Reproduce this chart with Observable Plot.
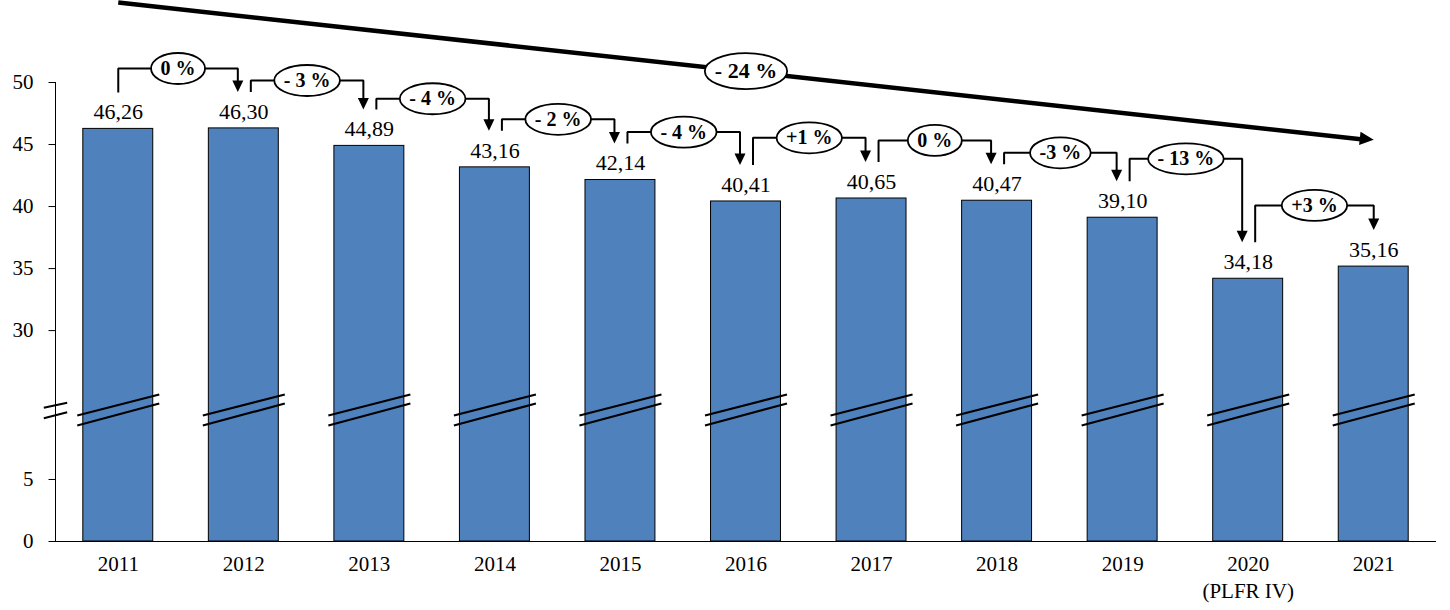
<!DOCTYPE html>
<html>
<head>
<meta charset="utf-8">
<script src="https://cdn.jsdelivr.net/npm/d3@7"></script>
<script src="https://cdn.jsdelivr.net/npm/@observablehq/plot@0.6"></script>
<style>
  html, body { margin: 0; padding: 0; background: #ffffff; }
  #chart { width: 1450px; height: 610px; }
</style>
</head>
<body>
<div id="chart"></div>
<script>
// ---------- data ----------
const years = [2011, 2012, 2013, 2014, 2015, 2016, 2017, 2018, 2019, 2020, 2021];
const values = [46.26, 46.30, 44.89, 43.16, 42.14, 40.41, 40.65, 40.47, 39.10, 34.18, 35.16];
const yearLabels = ["2011", "2012", "2013", "2014", "2015", "2016", "2017", "2018", "2019", "2020\n(PLFR IV)", "2021"];
const changeLabels = ["0 %", "- 3 %", "- 4 %", "- 2 %", "- 4 %", "+1 %", "0 %", "-3 %", "- 13 %", "+3 %"];
const changeLevels = [51.13, 50.16, 48.69, 47.03, 46.0, 45.54, 45.33, 44.33, 43.85, 40.09];
const totalLabel = "- 24 %";
const totalLevels = [56.45, 45.38];
const yTicks = [0, 5, 30, 35, 40, 45, 50];

// ---------- layout ----------
const W = 1450, H = 610;
const ML = 55, MR = 14, MT = 82, MB = 69;
const XDOM = [2010.5, 2021.5];
const YDOM = [0, 37];
const PXX = (W - ML - MR) / (XDOM[1] - XDOM[0]);
const PXY = (H - MT - MB) / (YDOM[1] - YDOM[0]);
const CUT = 13;          // units removed by the axis break
const f = v => (v >= 20 ? v - CUT : v);
const BREAK_Y = 10.6;    // break position (scaled units)
const GAP = 36.5 / PXY;  // arrow ends above the bars
const FONT = "Liberation Serif";
const BLUE = "#4F81BD";

const fmt = v => v.toFixed(2).replace(".", ",");
const bars = years.map((y, i) => ({year: y, value: values[i], label: fmt(values[i])}));

// transitions
const trans = changeLabels.map((lab, i) => {
  const sx = years[i] + (i === 0 ? 0 : 7 / PXX);
  const ex = years[i + 1] - (i === changeLabels.length - 1 ? 0 : 6 / PXX);
  return {
    id: i, label: lab, sx, ex, mid: (sx + ex) / 2,
    level: f(changeLevels[i]),
    y0: f(values[i] + GAP),
    tip: f(values[i + 1] + GAP)
  };
});
const elbowPts = trans.flatMap(t => [
  {id: t.id, x: t.sx, y: t.y0},
  {id: t.id, x: t.sx, y: t.level},
  {id: t.id, x: t.ex, y: t.level},
  {id: t.id, x: t.ex, y: t.tip + 6 / PXY}
]);

// ---------- custom symbols ----------
const downArrow = {draw(c) { c.moveTo(0, 0); c.lineTo(-5.5, -11.5); c.lineTo(5.5, -11.5); c.closePath(); }};
const barBreak = {draw(c) {
  c.moveTo(-41, 5.5); c.lineTo(41, -15.5);
  c.moveTo(-41, 15.5); c.lineTo(41, -6.5);
}};
const axisBreak = {draw(c) {
  c.moveTo(-11.7, -2.2); c.lineTo(11.7, -7.2);
  c.moveTo(-11.7, 8.2); c.lineTo(11.7, 2.2);
}};
const tickSym = {draw(c) { c.moveTo(-7, 0); c.lineTo(0, 0); }};
function ellipse(rx, ry) {
  const k = 0.5523;
  return {draw(c) {
    c.moveTo(rx, 0);
    c.bezierCurveTo(rx, ry * k, rx * k, ry, 0, ry);
    c.bezierCurveTo(-rx * k, ry, -rx, ry * k, -rx, 0);
    c.bezierCurveTo(-rx, -ry * k, -rx * k, -ry, 0, -ry);
    c.bezierCurveTo(rx * k, -ry, rx, -ry * k, rx, 0);
    c.closePath();
  }};
}
const ctx = document.createElement("canvas").getContext("2d");
function textW(s, size) { ctx.font = `bold ${size}px "${FONT}"`; return ctx.measureText(s).width; }

// big arrow geometry
const bigA = {x: years[0], y: f(totalLevels[0])};
const bigB = {x: years[years.length - 1], y: f(totalLevels[1])};
const ang = Math.atan2((bigA.y - bigB.y) * PXY, (bigB.x - bigA.x) * PXX);
const HL = 14, HW = 6.7;
const bigHead = {draw(c) {
  const ca = Math.cos(ang), sa = Math.sin(ang);
  const bx = -HL * ca, by = -HL * sa;
  c.moveTo(0, 0);
  c.lineTo(bx - sa * HW, by + ca * HW);
  c.lineTo(bx + sa * HW, by - ca * HW);
  c.closePath();
}};
const bigLine = [{x1: bigA.x, y1: bigA.y, x2: bigB.x - (HL * Math.cos(ang) - 1) / PXX, y2: bigB.y + (HL * Math.sin(ang) - 1) / PXY}];
const bigMid = {x: (bigA.x + bigB.x) / 2, y: (bigA.y + bigB.y) / 2, label: totalLabel};

// ---------- marks ----------
const marks = [
  Plot.rect(bars, {x1: d => d.year - 0.5, x2: d => d.year + 0.5, y1: 0, y2: d => f(d.value),
    insetLeft: 27.8, insetRight: 27.8, fill: BLUE, stroke: "black", strokeWidth: 1}),
  Plot.dot(bars, {x: "year", y: () => BREAK_Y, symbol: barBreak, fill: "none", stroke: "black", strokeWidth: 2.2}),
  Plot.ruleY([0], {stroke: "black", strokeWidth: 1}),
  Plot.ruleX([XDOM[0]], {y1: 0, y2: f(50), stroke: "black", strokeWidth: 1}),
  Plot.dot([0], {x: () => XDOM[0], y: () => BREAK_Y, symbol: axisBreak, fill: "none", stroke: "black", strokeWidth: 2}),
  Plot.dot(yTicks, {x: () => XDOM[0], y: d => f(d), symbol: tickSym, fill: "none", stroke: "black", strokeWidth: 1}),
  Plot.text(yTicks, {x: () => XDOM[0], y: d => f(d), text: d => String(d), textAnchor: "end", dx: -22,
    fontSize: 21, fontFamily: FONT, fill: "black"}),
  Plot.text(years, {x: d => d, y: () => 0, text: (d, i) => yearLabels[i], lineAnchor: "top", dy: 10.8,
    lineHeight: 1.27, fontSize: 21, fontFamily: FONT, fill: "black"}),
  Plot.text(bars, {x: "year", y: d => f(d.value), text: "label", dy: -16.6, fontSize: 22, fontFamily: FONT, fill: "black"}),
  // overall trend arrow
  Plot.link(bigLine, {x1: "x1", y1: "y1", x2: "x2", y2: "y2", stroke: "black", strokeWidth: 4.5, strokeLinecap: "butt"}),
  Plot.dot([bigB], {x: "x", y: "y", symbol: bigHead, fill: "black", stroke: "none"}),
  Plot.dot([bigMid], {x: "x", y: "y", symbol: ellipse(textW(totalLabel, 22) / 2 + 10, 18), fill: "white", stroke: "black", strokeWidth: 1.8}),
  Plot.text([bigMid], {x: "x", y: "y", text: "label", fontSize: 22, fontWeight: "bold", fontFamily: FONT, fill: "black"}),
  // year-on-year elbows
  Plot.line(elbowPts, {x: "x", y: "y", z: "id", stroke: "black", strokeWidth: 2, strokeLinejoin: "miter", strokeLinecap: "butt", curve: "linear"}),
  Plot.dot(trans, {x: "ex", y: "tip", symbol: downArrow, fill: "black", stroke: "none"}),
  ...trans.map(t => Plot.dot([t], {x: "mid", y: "level", symbol: ellipse(textW(t.label, 20) / 2 + 9.5, 15.5),
    fill: "white", stroke: "black", strokeWidth: 1.8})),
  Plot.text(trans, {x: "mid", y: "level", text: "label", fontSize: 20, fontWeight: "bold", fontFamily: FONT, fill: "black"})
];

const chart = Plot.plot({
  width: W, height: H,
  marginLeft: ML, marginRight: MR, marginTop: MT, marginBottom: MB,
  x: {type: "linear", domain: XDOM, axis: null},
  y: {type: "linear", domain: YDOM, axis: null},
  style: {fontFamily: FONT, background: "white", color: "black", overflow: "visible"},
  marks
});
document.getElementById("chart").appendChild(chart);
</script>
</body>
</html>
